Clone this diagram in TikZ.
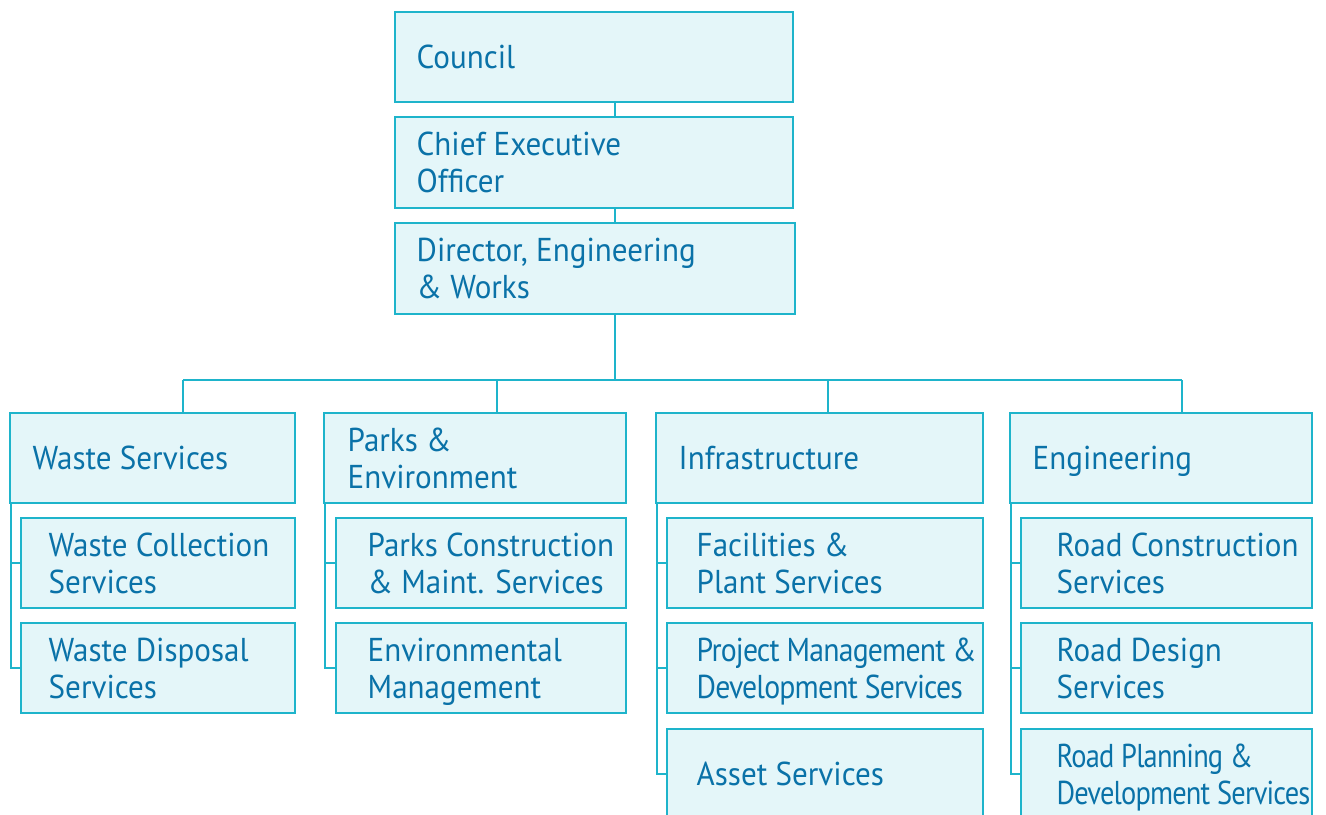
\documentclass[tikz,border=0pt]{standalone}
\usepackage{fontspec}
\setmainfont{PT Sans}[FakeStretch=0.94]
\newfontfamily\tightfontA{PT Sans}[FakeStretch=0.90, LetterSpace=-2.5]
\newfontfamily\tightfontB{PT Sans}[FakeStretch=0.86, LetterSpace=-2.5]
\usetikzlibrary{fit}
\definecolor{bd}{HTML}{1EB4CB}
\definecolor{fl}{HTML}{E4F6F9}
\definecolor{tx}{HTML}{0A72A8}
\tikzset{
  x=0.01cm, y=-0.01cm,
  box/.style={draw=bd, fill=fl, line width=0.02cm, inner sep=0pt, rectangle},
  txt/.style={text=tx, inner sep=0pt, align=left, anchor=west, text depth=0pt,
    font=\fontsize{9.4}{10.5}\selectfont},
  tighttxtA/.style={txt, font=\fontsize{9.4}{10.5}\tightfontA},
  tighttxtB/.style={txt, font=\fontsize{9.4}{10.5}\tightfontB},
  conn/.style={draw=bd, line width=0.02cm}
}
\newcommand{\mybox}[5]{%
  \node[box, fit={(#2,#3) (#4,#5)}] (#1) {};
}
\begin{document}
\begin{tikzpicture}
\clip (0,0) rectangle (1326,814);
\fill[white] (0,0) rectangle (1326,814);
% top chain
\mybox{council}{395}{12}{793}{102}
\mybox{ceo}{395}{117}{793}{208}
\mybox{dir}{395}{223}{795}{314}
\node[txt] (councilt) at ([xshift=0.22cm]council.west) {Council};
\node[txt] (ceot) at ([xshift=0.22cm]ceo.west) {Chief Executive\\Officer};
\node[txt] (dirt) at ([xshift=0.22cm]dir.west) {Director, Engineering\\\& Works};
% level 2
\mybox{waste}{10}{413}{295}{503}
\mybox{parks}{324}{413}{626}{503}
\mybox{infra}{656}{413}{983}{503}
\mybox{eng}{1010}{413}{1312}{503}
\node[txt] (wastet) at ([xshift=0.23cm]waste.west) {Waste Services};
\node[txt] (parkst) at ([xshift=0.24cm]parks.west) {Parks \&\\Environment};
\node[txt] (infrat) at ([xshift=0.23cm]infra.west) {Infrastructure};
\node[txt] (engt) at ([xshift=0.23cm]eng.west) {Engineering};
% level 3
\mybox{wc}{21}{518}{295}{608}
\mybox{wd}{21}{623}{295}{713}
\mybox{pc}{336}{518}{626}{608}
\mybox{em}{336}{623}{626}{713}
\mybox{fp}{667}{518}{983}{608}
\mybox{pm}{667}{623}{983}{713}
\mybox{as}{667}{729}{983}{819}
\mybox{rc}{1021}{518}{1312}{608}
\mybox{rd}{1021}{623}{1312}{713}
\mybox{rp}{1021}{729}{1312}{819}
\node[txt] (wct) at ([xshift=0.28cm]wc.west) {Waste Collection\\Services};
\node[txt] (wdt) at ([xshift=0.28cm]wd.west) {Waste Disposal\\Services};
\node[txt] (pct) at ([xshift=0.32cm]pc.west) {Parks Construction\\\& Maint. Services};
\node[txt] (emt) at ([xshift=0.32cm]em.west) {Environmental\\Management};
\node[txt] (fpt) at ([xshift=0.30cm]fp.west) {Facilities \&\\Plant Services};
\node[tighttxtA] (pmt) at ([xshift=0.30cm]pm.west) {Project Management \&\\Development Services};
\node[txt] (ast) at ([xshift=0.30cm]as.west) {Asset Services};
\node[txt] (rct) at ([xshift=0.36cm]rc.west) {Road Construction\\Services};
\node[txt] (rdt) at ([xshift=0.36cm]rd.west) {Road Design\\Services};
\node[tighttxtB] (rpt) at ([xshift=0.36cm]rp.west) {Road Planning \&\\Development Services};
% connectors
\coordinate (trunk) at (615,380);
\coordinate (d1) at (183,380);
\coordinate (d2) at (497,380);
\coordinate (d3) at (828,380);
\coordinate (d4) at (1182,380);
\draw[conn] (council.south -| trunk) -- (ceo.north -| trunk);
\draw[conn] (ceo.south -| trunk) -- (dir.north -| trunk);
\draw[conn] (dir.south -| trunk) -- (trunk);
\draw[conn] (d1) -- (d4);
\draw[conn] (d1) -- (waste.north -| d1);
\draw[conn] (d2) -- (parks.north -| d2);
\draw[conn] (d3) -- (infra.north -| d3);
\draw[conn] (d4) -- (eng.north -| d4);
\draw[conn] ([xshift=0.02cm]waste.south west) |- (wc.west);
\draw[conn] ([xshift=0.02cm]waste.south west) |- (wd.west);
\draw[conn] ([xshift=0.02cm]parks.south west) |- (pc.west);
\draw[conn] ([xshift=0.02cm]parks.south west) |- (em.west);
\draw[conn] ([xshift=0.02cm]infra.south west) |- (fp.west);
\draw[conn] ([xshift=0.02cm]infra.south west) |- (pm.west);
\draw[conn] ([xshift=0.02cm]infra.south west) |- (as.west);
\draw[conn] ([xshift=0.02cm]eng.south west) |- (rc.west);
\draw[conn] ([xshift=0.02cm]eng.south west) |- (rd.west);
\draw[conn] ([xshift=0.02cm]eng.south west) |- (rp.west);
\end{tikzpicture}
\end{document}
